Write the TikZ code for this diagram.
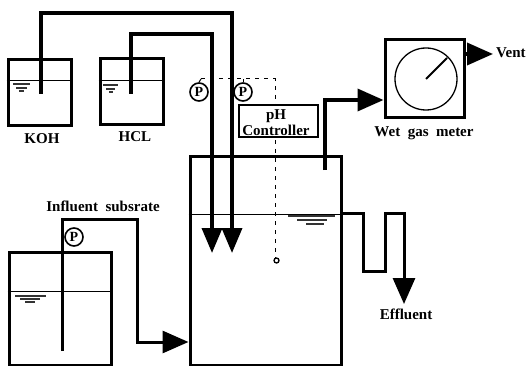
\documentclass[tikz,border=0pt]{standalone}
\usepackage{fontspec}
\setmainfont{Liberation Serif}
\usetikzlibrary{arrows.meta,positioning,calc}
\tikzset{
  vessel/.style={draw=black,line width=3pt,inner sep=0pt,minimum width=#1},
  pipe/.style={draw=black,line width=3.6pt,line join=miter},
  thinpipe/.style={draw=black,line width=3pt,line join=miter},
  flow/.style={-{Triangle[length=26pt,width=22pt]}},
  twin/.style={-{Triangle[length=25pt,width=20pt]}},
  level/.style={draw=black,line width=1pt},
  ripple/.style={draw=black!80,line width=1.4pt},
  pumpc/.style={circle,draw=black,line width=1.6pt,fill=white,minimum size=18pt,inner sep=0pt,font=\bfseries\fontsize{14}{14}\selectfont},
  lab/.style={inner sep=0pt,font=\bfseries\fontsize{15}{16}\selectfont},
  ctrl/.style={draw=black,fill=white,line width=1.4pt,minimum width=79pt,minimum height=32pt,inner sep=0pt},
  signal/.style={draw=black,line width=1pt,dash pattern=on 4pt off 5pt}
}
\begin{document}
\begin{tikzpicture}[x=1pt,y=-1pt]
\useasboundingbox (0,0) rectangle (529,366);
% vessels
\node[vessel=63pt,minimum height=66pt] (koh) at (39.5,93) {};
\node[vessel=63pt,minimum height=66pt] (hcl) at (131.5,92) {};
\node[vessel=102pt,minimum height=113pt] (feed) at (60,308.5) {};
\node[vessel=151pt,minimum height=209pt] (reactor) at (265.5,260.5) {};
\node[vessel=79pt,minimum height=78pt] (meter) at (424.5,79) {};
% liquid levels
\draw[level] (koh.west|-0,81) -- (koh.east|-0,81);
\draw[level] (hcl.west|-0,81) -- (hcl.east|-0,81);
\draw[level] (feed.west|-0,291) -- (feed.east|-0,291);
\draw[level] (reactor.west|-0,214) -- (reactor.east|-0,214);
% ripples
\foreach \a/\b/\y in {13/30/84,16/27/88,19/24/91,103/118/85,106/115/89,109/113/92,15/46/296,20/40/299,25/35/302,288/335/216,297/327/220,306/324/224}
  \draw[ripple] (\a,\y) -- (\b,\y);
% signal line
\node[circle,draw=black,line width=1.3pt,minimum size=5pt,inner sep=0pt] (probe) at (276.5,260.5) {};
\coordinate (sa) at (201,79);
\coordinate (sb) at (275,79);
\draw[signal] (sa) -- (sb) -- (sb|-probe.north);
% controller
\node[ctrl] (ctl) at (278.5,121) {};
% pipes
\coordinate (k0) at (41,94); \coordinate (k1) at (41,13); \coordinate (k2) at (232,13); \coordinate (k3) at (232,253);
\coordinate (h0) at (131,94); \coordinate (h1) at (131,34); \coordinate (h2) at (212,34); \coordinate (h3) at (212,253);
\draw[pipe,twin] (k0) -- (k1) -- (k2) -- (k3);
\draw[pipe,twin] (h0) -- (h1) -- (h2) -- (h3);
\coordinate (f0) at (62,351); \coordinate (f1) at (62,219); \coordinate (f2) at (137,219); \coordinate (f3) at (137,342);
\draw[thinpipe,flow] (f0) -- (f1) -- (f2) -- (f3) -- (reactor.west|-f3);
\coordinate (g0) at (325,170); \coordinate (g1) at (325,100);
\draw[pipe,flow] (g0) -- (g1) -- (meter.west|-g1);
\coordinate (v0) at (493,54);
\draw[pipe,flow] (meter.east|-v0) -- (v0);
\coordinate (e1) at (363,213); \coordinate (e2) at (363,271); \coordinate (e3) at (385,271); \coordinate (e4) at (385,213); \coordinate (e5) at (404,213); \coordinate (e6) at (404,304);
\draw[thinpipe,flow] (reactor.east|-e1) -- (e1) -- (e2) -- (e3) -- (e4) -- (e5) -- (e6);
% meter dial
\node[circle,draw=black,line width=1.3pt,minimum size=62pt,inner sep=0pt] (dial) at (426,79) {};
\coordinate (needle) at (447,58);
\draw[line width=2pt] (dial.center) -- (needle);
% pumps
\node[pumpc] (p1) at (199,92) {P};
\node[pumpc] (p2) at (243,92) {P};
\node[pumpc] (p3) at (74,237) {P};
\draw[level] (p1.north) -- (sa);
\draw[level] (p2.north) -- (p2.north|-sa);
% labels
\node[lab] (lk) at (42,139) {KOH};
\node[lab] (lh) at (135,137) {HCL};
\node[lab] at (276,116) {pH};
\node[lab] at (276,130) {Controller};
\node[lab,anchor=west] at (496,53) {Vent};
\node[lab] at (424,133.5) {Wet\ \ gas\ \ meter};
\node[lab] at (103,206) {Influent\ \ subsrate};
\node[lab] at (406,314) {Effluent};
\end{tikzpicture}
\end{document}
